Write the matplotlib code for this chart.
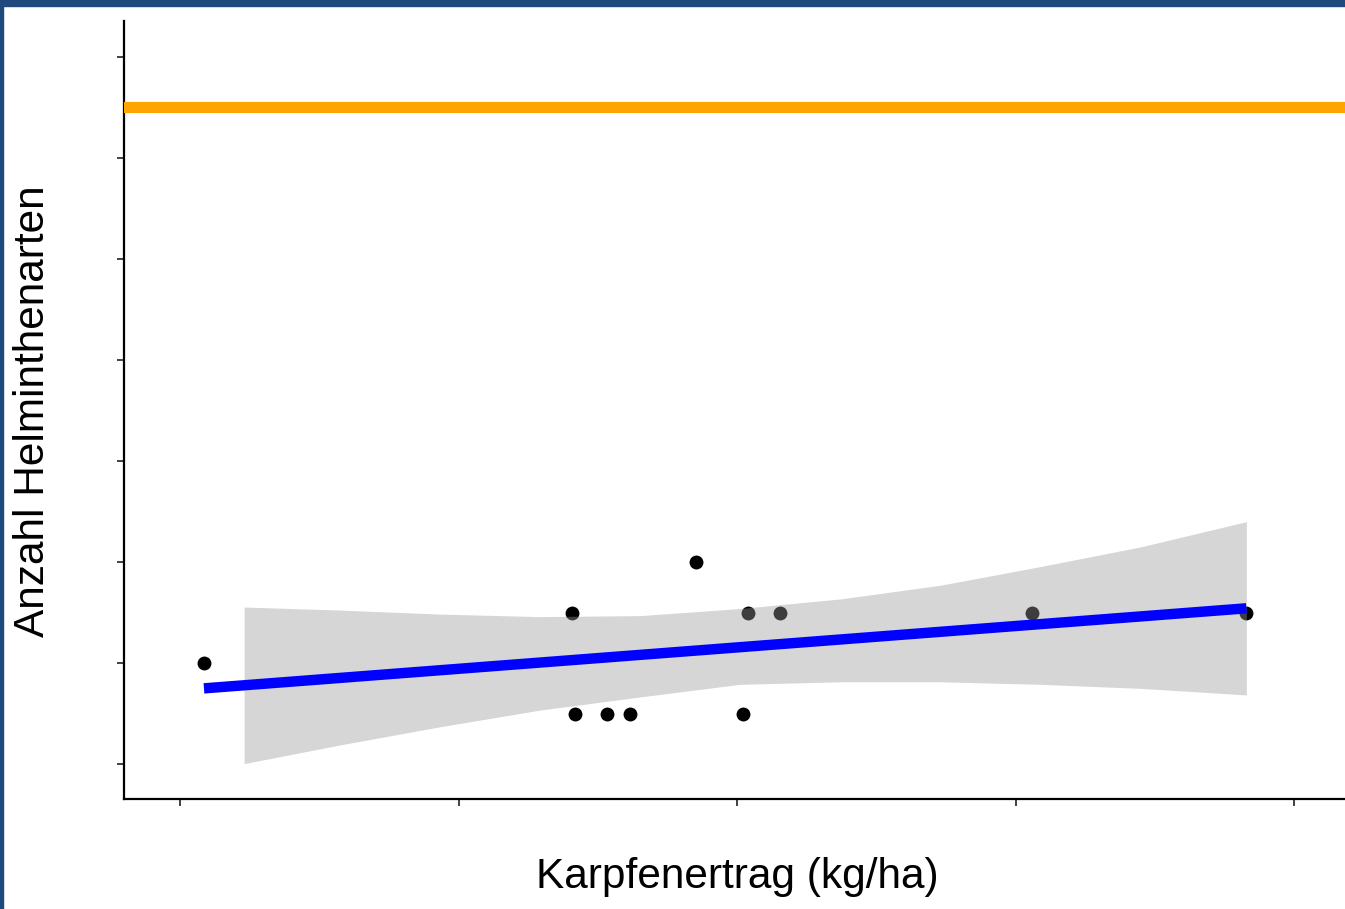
import numpy as np
import matplotlib
matplotlib.use("Agg")
import matplotlib.pyplot as plt
from matplotlib.patches import Rectangle

plt.rcParams['font.family'] = ['Liberation Sans', 'DejaVu Sans']

# carp yield vs. number of helminth species
ertrag = [43, 704, 709, 767, 808, 926, 1011, 1020, 1077, 1530, 1914]
arten = [4, 5, 3, 3, 3, 6, 3, 5, 5, 5, 5]

# confidence band along the fit
band_x = [115, 287, 467, 646, 826, 1005, 1185, 1364, 1544, 1724, 1914]
band_lo = [2.01, 2.38, 2.74, 3.07, 3.33, 3.58, 3.63, 3.63, 3.58, 3.50, 3.37]
band_hi = [5.11, 5.05, 4.97, 4.92, 4.94, 5.08, 5.27, 5.54, 5.91, 6.30, 6.80]

referenz = 15  # reference level

fig = plt.figure(figsize=(13.45, 9.09), dpi=100)
ax = fig.add_axes([124/1345, 110/909, 1 - 124/1345, 778/909])

ax.scatter(ertrag, arten, s=100, color='black', zorder=1, linewidths=0)
ax.fill_between(band_x, band_lo, band_hi, color='#999999', alpha=0.4,
                linewidth=0, zorder=2)

k, d = np.polyfit(ertrag, arten, 1)
xs = np.array([min(ertrag), max(ertrag)])
ax.plot(xs, k * xs + d, color='#0000FF', lw=7.5, solid_capstyle='butt', zorder=3)
ax.axhline(referenz, color='#FFA500', lw=8, zorder=3)

ax.set_xlim(-100.5, 2091)
ax.set_ylim(1.31, 16.71)
ax.set_xticks([0, 500, 1000, 1500, 2000])
ax.set_yticks(np.arange(2, 17, 2))
ax.set_xticklabels([])
ax.set_yticklabels([])
ax.tick_params(length=5, width=1.3, color='#333333', direction='out')

for s in ['top', 'right']:
    ax.spines[s].set_visible(False)
for s in ['left', 'bottom']:
    ax.spines[s].set_linewidth(1.6)
    ax.spines[s].set_color('black')

fig.text(737/1345, 1 - 877/909, 'Karpfenertrag (kg/ha)', fontsize=30.5,
         ha='center', va='center')
fig.text(33/1345, 1 - 411/909, 'Anzahl Helminthenarten', fontsize=30.5,
         ha='center', va='center', rotation=90)

# dark blue frame at top and left edge
blau = '#1F497D'
fig.patches.append(Rectangle((0, 1 - 6/909), 1, 6/909, transform=fig.transFigure,
                             color=blau, zorder=10))
fig.patches.append(Rectangle((0, 0), 2.5/1345, 1, transform=fig.transFigure,
                             color=blau, zorder=10))

fig.savefig('out.png', dpi=100)
